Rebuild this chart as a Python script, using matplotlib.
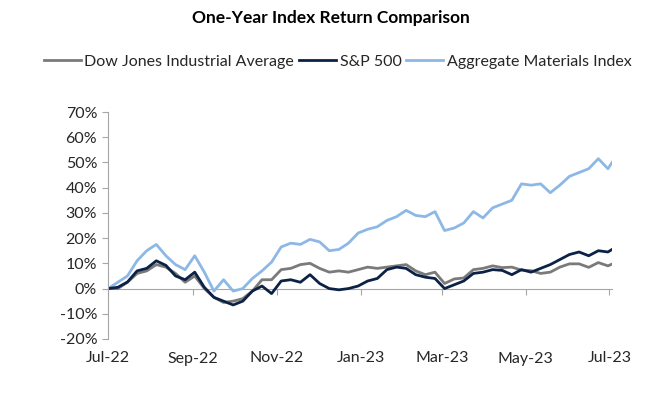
"""One-Year Index Return Comparison: DJIA vs S&P 500 vs Aggregate Materials Index."""

import matplotlib
matplotlib.use("Agg")
import matplotlib.pyplot as plt
import matplotlib.dates as mdates
from matplotlib.ticker import FuncFormatter, MultipleLocator
import pandas as pd

GRAY = "#7A7A7A"
NAVY = "#0B2246"
LIGHT_BLUE = "#8DB8E6"
AXIS_GRAY = "#A6A6A6"
TEXT = "#262626"

# weekly readings (Fridays from 1 Jul 2022) plus the last close in early July 2023
dates = list(pd.date_range("2022-07-01", periods=53, freq="7D")) + [pd.Timestamp("2023-07-03")]

djia = [0, 0, 2.5, 6, 7, 9.5, 8.5, 6, 2.5, 5,
        0, -3.5, -5.5, -5, -4, -1, 3.5, 3.5, 7.5, 8,
        9.5, 10, 8, 6.5, 7, 6.5, 7.5, 8.5, 8, 8.5,
        9, 9.5, 7, 5.5, 6.5, 2, 3.8, 4.2, 7.5, 8,
        9, 8.3, 8.5, 7.3, 7.1, 6, 6.5, 8.5, 9.8, 9.8,
        8.4, 10.3, 9, 9.7]

sp500 = [0, 0.5, 2.6, 7, 8, 11, 9.2, 5, 3.5, 6.5,
         0.5, -3.5, -5, -6.5, -5, -1, 1, -2, 3, 3.5,
         2.5, 5.5, 2, 0, -0.5, 0, 1, 3, 4, 7.5,
         8.5, 8, 5.5, 4.5, 4, 0, 1.5, 3, 6, 6.5,
         7.5, 7.2, 5.5, 7.5, 6.5, 8, 9.5, 11.5, 13.5, 14.5,
         13, 15, 14.5, 15.5]

materials = [0, 2.5, 5, 11, 15, 17.5, 13, 9.5, 7.5, 13,
             6.5, -1, 3.5, -1, 0, 4, 7, 10.5, 16.5, 18,
             17.5, 19.5, 18.5, 15, 15.5, 18, 22, 23.5, 24.5, 27,
             28.5, 31, 29, 28.5, 30.5, 23, 24, 26, 30.5, 28,
             32, 33.5, 35, 41.5, 41, 41.5, 38, 41, 44.5, 46,
             47.5, 51.5, 47.5, 50]

series_names = ["Dow Jones Industrial Average", "S&P 500", "Aggregate Materials Index"]

plt.rcParams["font.family"] = ["Lato", "DejaVu Sans"]

fig = plt.figure(figsize=(6.56, 4.0), dpi=100)
ax = fig.add_axes([0.165, 0.1525, 0.768, 0.5675])

l_mat, = ax.plot(dates, materials, color=LIGHT_BLUE, linewidth=2.0, label=series_names[2])
l_dji, = ax.plot(dates, djia, color=GRAY, linewidth=2.0, label=series_names[0])
l_spx, = ax.plot(dates, sp500, color=NAVY, linewidth=2.0, label=series_names[1])

ax.set_ylim(-20, 70)
ax.set_xlim(pd.Timestamp("2022-07-01"), pd.Timestamp("2023-07-03"))
ax.yaxis.set_major_locator(MultipleLocator(10))
ax.yaxis.set_major_formatter(FuncFormatter(lambda v, _: f"{v:.0f}%"))

ax.xaxis.set_major_locator(mdates.MonthLocator(bymonth=[1, 3, 5, 7, 9, 11]))
ax.xaxis.set_major_formatter(mdates.DateFormatter("%b-%y"))
ax.tick_params(axis="x", length=0, pad=9, labelsize=11.5, labelcolor=TEXT)
ax.tick_params(axis="y", length=4, width=0.8, color=AXIS_GRAY, pad=4,
               labelsize=11.5, labelcolor=TEXT)

for side in ("top", "right", "bottom"):
    ax.spines[side].set_visible(False)
ax.spines["left"].set_color(AXIS_GRAY)
ax.spines["left"].set_linewidth(0.8)

# horizontal axis line crossing at 0%, with its own tick marks
zero_axis = ax.secondary_xaxis(20 / 90)
zero_axis.xaxis.set_major_locator(mdates.MonthLocator(bymonth=[1, 3, 5, 7, 9, 11]))
zero_axis.tick_params(axis="x", length=4, width=0.8, color=AXIS_GRAY, labelbottom=False)
zero_axis.spines["bottom"].set_color(AXIS_GRAY)
zero_axis.spines["bottom"].set_linewidth(0.8)
zero_axis.set_xticklabels([])

fig.text(0.505, 0.955, "One-Year Index Return Comparison", ha="center", va="center",
         fontsize=12.5, fontweight="bold", color="black")

fig.legend(handles=[l_dji, l_spx, l_mat], loc="center", bbox_to_anchor=(0.515, 0.845),
           ncol=3, frameon=False, fontsize=11.5, handlelength=2.3, handletextpad=0.25,
           columnspacing=0.3, labelcolor=TEXT)

fig.savefig("out.png", dpi=100, facecolor="white")
